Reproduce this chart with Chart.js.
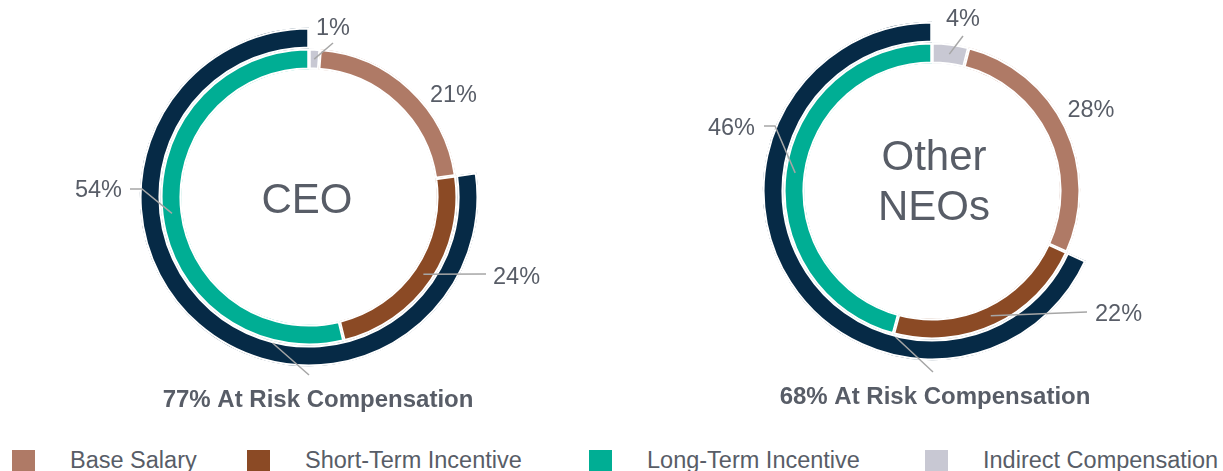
<!DOCTYPE html>
<html>
<head>
<meta charset="utf-8">
<script src="https://cdn.jsdelivr.net/npm/chart.js@4"></script>
<style>
  html, body { margin: 0; padding: 0; background: #ffffff; }
  body { width: 1223px; height: 471px; position: relative; overflow: hidden;
         font-family: 'Liberation Sans', Arial, sans-serif; }
  canvas { position: absolute; top: 0; }
  #c1 { left: 0; }
  #c2 { left: 612px; }
  .lg-item { position: absolute; top: 447px; height: 26px; white-space: nowrap; }
  .lg-box { position: absolute; left: 0; top: 3px; width: 23px; height: 21px; }
  .lg-text { position: absolute; left: 58px; top: 0; font-size: 23.5px; line-height: 26px; color: #585D67; }
</style>
</head>
<body>
<canvas id="c1" width="620" height="425"></canvas>
<canvas id="c2" width="611" height="425"></canvas>
<div id="legend"></div>
<script>
// ---------- data ----------
const categories = ['Base Salary', 'Short-Term Incentive', 'Long-Term Incentive', 'Indirect Compensation'];
const colors = ['#AF7A66', '#8B4A25', '#00AE94', '#C8C8D3'];
const ceoValues = [21.5, 23.5, 53.8, 1.2];
const neoValues = [27.8, 22.4, 45.8, 4.0];
const ceoLabels = ['21%', '24%', '54%', '1%'];
const neoLabels = ['28%', '22%', '46%', '4%'];
const atRiskCategories = [1, 2];          // STI + LTI
const ringOrder = [3, 0, 1, 2];           // clockwise from 12 o'clock
const centerTitles = [['CEO'], ['Other', 'NEOs']];
const captions = ['77% At Risk Compensation', '68% At Risk Compensation'];

// ---------- styling / layout ----------
const NAVY = '#062A46';
const TEXT = '#585D67';
const LEADER = '#A6A6A6';
const FONT = "'Liberation Sans', Arial, sans-serif";
const BORDER = 1.75;

// label placement relative to chart centre, keyed by category index
const layouts = [
  {
    padding: { left: 139.5, top: 27.5, right: 141.5, bottom: 58.5 },
    labels: {
      0: { at: [144.5, -95], align: 'center' },
      1: { at: [184, 87], align: 'left', leader: [[177, 77]] },
      2: { at: [-187, 0], align: 'right', leader: [[-167, -8], [-179, -8]] },
      3: { at: [24, -162], align: 'center', leader: [[24, -154]] }
    },
    title: { x: -2, baselines: [16] },
    callout: { angle: 194, end: [0, 178] },
    caption: [9, 210]
  },
  {
    padding: { left: 150.5, top: 21.5, right: 121.5, bottom: 64.5 },
    labels: {
      0: { at: [159, -74], align: 'center' },
      1: { at: [163, 130], align: 'left', leader: [[155, 121]] },
      2: { at: [-177, -56], align: 'right', leader: [[-157, -65], [-168, -65]] },
      3: { at: [31, -165], align: 'center', leader: [[31, -155]] }
    },
    title: { x: 2, baselines: [-21, 29] },
    callout: { angle: 194, end: [1, 181] },
    caption: [3, 213]
  }
];

const calloutPlugin = {
  id: 'callouts',
  afterDatasetsDraw(chart, args, opts) {
    const ctx = chart.ctx;
    const outerMeta = chart.getDatasetMeta(0);
    const innerMeta = chart.getDatasetMeta(1);
    const cx = innerMeta.data[0].x, cy = innerMeta.data[0].y;
    const L = opts.layout;
    ctx.save();
    ctx.strokeStyle = LEADER;
    ctx.lineWidth = 1.5;
    ctx.lineCap = 'butt';
    // leader lines from arc centres
    ringOrder.forEach((cat, pos) => {
      const cfg = L.labels[cat];
      if (!cfg.leader) return;
      const p = innerMeta.data[pos].getCenterPoint(true);
      ctx.beginPath();
      ctx.moveTo(p.x, p.y);
      cfg.leader.forEach(pt => ctx.lineTo(cx + pt[0], cy + pt[1]));
      ctx.stroke();
    });
    // callout from navy ring to caption
    const navyArc = outerMeta.data[1];
    const a = (L.callout.angle - 90) * Math.PI / 180;
    const r0 = navyArc.innerRadius + 2;
    ctx.beginPath();
    ctx.moveTo(cx + Math.cos(a) * r0, cy + Math.sin(a) * r0);
    ctx.lineTo(cx + L.callout.end[0], cy + L.callout.end[1]);
    ctx.stroke();

    // percentage labels
    ctx.fillStyle = TEXT;
    ctx.textBaseline = 'alphabetic';
    ctx.font = '23.5px ' + FONT;
    ringOrder.forEach((cat) => {
      const cfg = L.labels[cat];
      ctx.textAlign = cfg.align;
      ctx.fillText(opts.pctLabels[cat], cx + cfg.at[0], cy + cfg.at[1]);
    });
    // centre title
    ctx.font = '42px ' + FONT;
    ctx.textAlign = 'center';
    opts.title.forEach((line, i) => {
      ctx.fillText(line, cx + L.title.x, cy + L.title.baselines[i]);
    });
    // caption
    ctx.font = 'bold 24px ' + FONT;
    ctx.fillText(opts.caption, cx + L.caption[0], cy + L.caption[1]);
    ctx.restore();
  }
};

function makeChart(canvasId, values, pctLabels, title, caption, layout) {
  const ordered = ringOrder.map(i => values[i]);
  const atRisk = atRiskCategories.reduce((s, i) => s + values[i], 0);
  const total = values.reduce((s, v) => s + v, 0);
  return new Chart(document.getElementById(canvasId), {
    type: 'doughnut',
    data: {
      labels: ringOrder.map(i => categories[i]),
      datasets: [
        {
          label: 'At Risk',
          data: [total - atRisk, atRisk],
          backgroundColor: ['rgba(0,0,0,0)', NAVY],
          borderColor: '#ffffff',
          borderWidth: [0, BORDER],
          borderAlign: 'inner',
          hoverOffset: 0, offset: 0
        },
        {
          label: 'Mix',
          data: ordered,
          backgroundColor: ringOrder.map(i => colors[i]),
          borderColor: '#ffffff',
          borderWidth: BORDER,
          borderAlign: 'inner',
          hoverOffset: 0, offset: 0
        }
      ]
    },
    options: {
      responsive: false,
      devicePixelRatio: 1,
      animation: false,
      events: [],
      cutout: 127.5,
      radius: '100%',
      layout: { padding: layout.padding },
      plugins: {
        legend: { display: false },
        tooltip: { enabled: false },
        callouts: { layout: layout, pctLabels: pctLabels, title: title, caption: caption }
      }
    },
    plugins: [calloutPlugin]
  });
}

makeChart('c1', ceoValues, ceoLabels, centerTitles[0], captions[0], layouts[0]);
makeChart('c2', neoValues, neoLabels, centerTitles[1], captions[1], layouts[1]);

// ---------- legend ----------
const legendLeft = [12, 247, 589, 925];
const legend = document.getElementById('legend');
categories.forEach((name, i) => {
  const item = document.createElement('div');
  item.className = 'lg-item';
  item.style.left = legendLeft[i] + 'px';
  const box = document.createElement('div');
  box.className = 'lg-box';
  box.style.background = colors[i];
  const txt = document.createElement('span');
  txt.className = 'lg-text';
  txt.textContent = name;
  item.appendChild(box);
  item.appendChild(txt);
  legend.appendChild(item);
});
</script>
</body>
</html>
